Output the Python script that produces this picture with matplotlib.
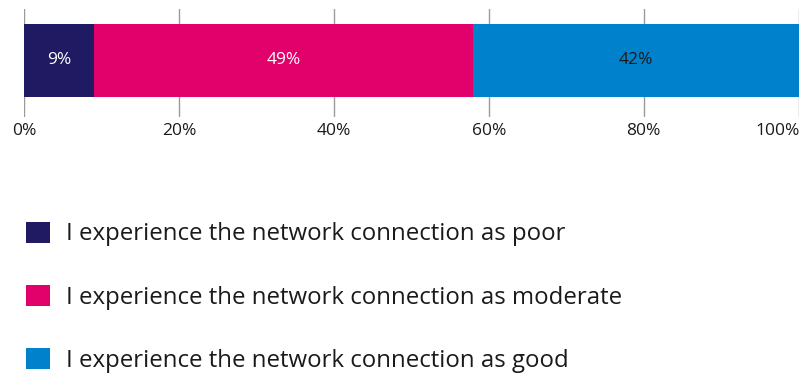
import matplotlib
matplotlib.use("Agg")
import matplotlib.pyplot as plt
import matplotlib.transforms as mtransforms
from matplotlib.patches import Patch

plt.rcParams['font.family'] = ['Open Sans', 'DejaVu Sans']

categories = ["I experience the network connection as poor",
              "I experience the network connection as moderate",
              "I experience the network connection as good"]
values = [9, 49, 42]
colors = ["#201A62", "#E2006A", "#0081CB"]
label_colors = ["white", "white", "#1a1a1a"]
tick_values = [0, 20, 40, 60, 80, 100]
tick_labels = ["0%", "20%", "40%", "60%", "80%", "100%"]

W, H = 799, 374
fig = plt.figure(figsize=(W / 100, H / 100), dpi=100)

# axes spans the gridline extent; bar sits inside it
ax_left, ax_right, ax_top, ax_bottom = 24, 798.5, 9, 117
ax = fig.add_axes([ax_left / W, 1 - ax_bottom / H,
                   (ax_right - ax_left) / W, (ax_bottom - ax_top) / H])
ax.set_xlim(0, 100)
ax.set_ylim(0, 1)

bar_bottom = (ax_bottom - 97) / (ax_bottom - ax_top)
bar_top = (ax_bottom - 24) / (ax_bottom - ax_top)
bar_h = bar_top - bar_bottom
bar_y = bar_bottom + bar_h / 2

for x in tick_values:
    ax.axvline(x, color="#9a9a9a", lw=1.0, zorder=0)

left = 0
for v, c, lc in zip(values, colors, label_colors):
    ax.barh(bar_y, v, left=left, height=bar_h, color=c, zorder=2)
    ax.text(left + v / 2, bar_y, f"{v}%", ha="center", va="center",
            color=lc, fontsize=12.5, zorder=3)
    left += v

ax.set_xticks(tick_values)
ax.set_xticklabels(tick_labels, fontsize=12.5, color="#1a1a1a")
ax.tick_params(axis="x", length=0, pad=4)
ax.set_yticks([])
for s in ax.spines.values():
    s.set_visible(False)

# keep the last tick label inside the figure
last = ax.get_xticklabels()[-1]
last.set_horizontalalignment("right")
last.set_transform(last.get_transform() +
                   mtransforms.ScaledTranslation(1 / 100, 0, fig.dpi_scale_trans))

handles = [Patch(facecolor=c, edgecolor="none") for c in colors]
fs = 17.3
fs_px = fs * 100 / 72
fig.legend(handles, categories, loc="upper left",
           bbox_to_anchor=(26 / W, 1 - 221.5 / H), bbox_transform=fig.transFigure,
           frameon=False, fontsize=fs, handlelength=24 / fs_px, handleheight=24 / fs_px,
           handletextpad=16 / fs_px, labelspacing=(62.2 - fs_px) / fs_px,
           borderpad=0, borderaxespad=0, labelcolor="#1a1a1a")

fig.savefig("out.png", dpi=100)
